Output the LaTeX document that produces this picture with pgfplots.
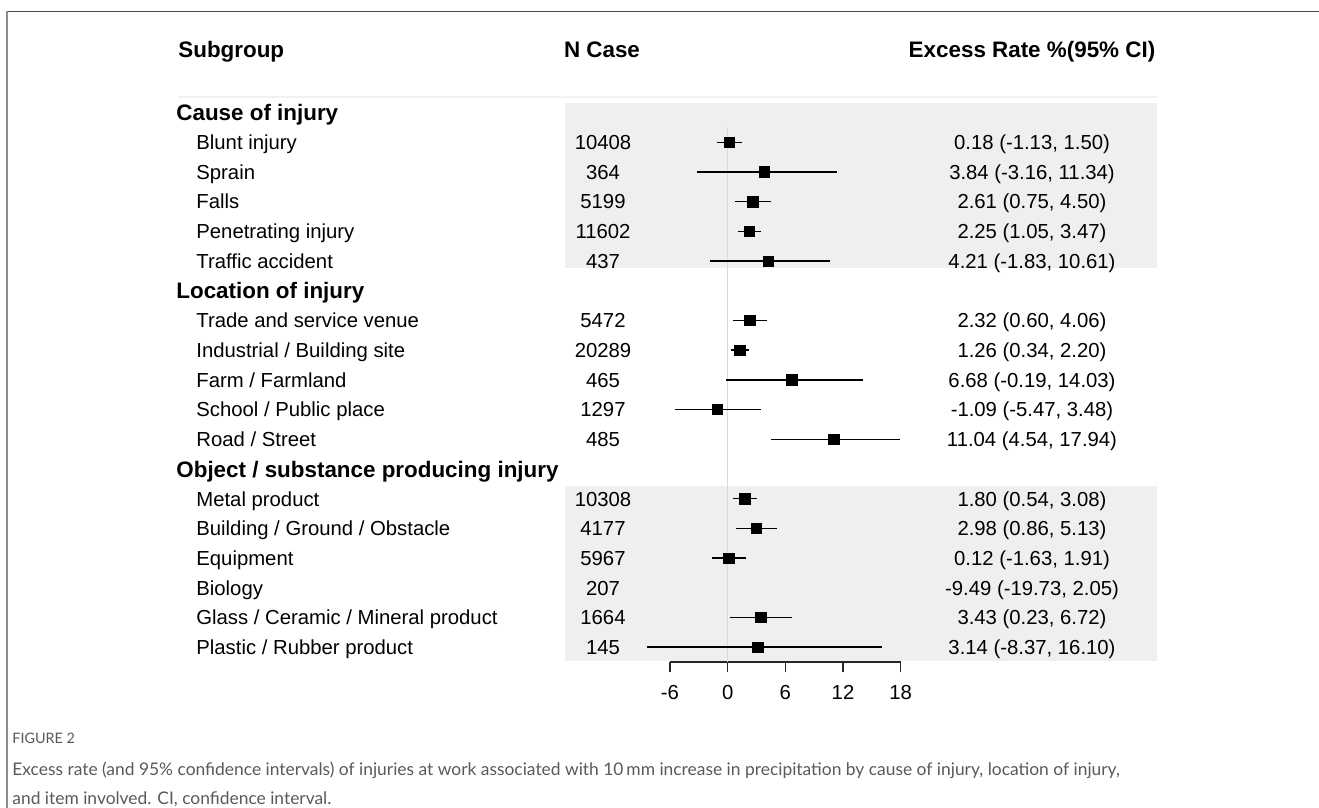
\documentclass[border=0pt]{standalone}
\usepackage{pgfplots}
\pgfplotsset{compat=1.18}
\usepackage{pgfplotstable}
\usepackage{fontspec}
\setmainfont{Liberation Sans}
\newfontfamily\capfont{Lato}
\definecolor{band}{HTML}{EFEFEF}
\definecolor{sepline}{HTML}{F2F2F2}
\definecolor{capgray}{HTML}{595959}
\def\pxu{0.5pt}
\newcommand{\body}{\fontsize{10.15pt}{12pt}\selectfont}
\newcommand{\hdr}{\fontsize{11.2pt}{13pt}\selectfont\bfseries}
% row baseline (pixels) for regular rows
\newcommand{\itemrow}[4]{%
  \node[anchor=base west,inner sep=0] at ({196*\pxu},{-(149.6+(#1-1)*29.7)*\pxu}) {\body #2};
  \node[anchor=base,inner sep=0] at ({603*\pxu},{-(149.6+(#1-1)*29.7)*\pxu}) {\body #3};
  \node[anchor=base,inner sep=0] at ({1032*\pxu},{-(149.6+(#1-1)*29.7)*\pxu}) {\body #4};
}
\newcommand{\grouprow}[2]{%
  \node[anchor=base west,inner sep=0] at ({176*\pxu},{-(150.3+(#1-1)*29.7)*\pxu}) {\hdr #2};
}
\pgfplotstableread{
row est lo hi
1 0.18 -1.13 1.50
2 3.84 -3.16 11.34
3 2.61 0.75 4.50
4 2.25 1.05 3.47
5 4.21 -1.83 10.61
7 2.32 0.60 4.06
8 1.26 0.34 2.20
9 6.68 -0.19 14.03
10 -1.09 -5.47 3.48
11 11.04 4.54 17.94
13 1.80 0.54 3.08
14 2.98 0.86 5.13
15 0.12 -1.63 1.91
17 3.43 0.23 6.72
18 3.14 -8.37 16.10
}\ciData
\begin{document}
\begin{tikzpicture}
\path[use as bounding box] (0,0) rectangle ({1319*\pxu},{-808*\pxu});
% frame
\draw[color=black!70, line width=0.75pt] ({6*\pxu},{-11.5*\pxu}) -- ({1319*\pxu},{-11.5*\pxu});
\draw[color=black!45, line width=1pt] ({6.5*\pxu},{-11*\pxu}) -- ({6.5*\pxu},{-808*\pxu});
% bands
\fill[band] ({565*\pxu},{-103*\pxu}) rectangle ({1157*\pxu},{-268*\pxu});
\fill[band] ({565*\pxu},{-486*\pxu}) rectangle ({1157*\pxu},{-661*\pxu});
% header separator
\draw[sepline, line width=1pt] ({178*\pxu},{-97*\pxu}) -- ({1157*\pxu},{-97*\pxu});
\begin{axis}[
  at={({670*\pxu},{-662*\pxu})}, anchor=south west,
  x=4.806pt, y=14.85pt,
  xmin=-6, xmax=18, ymin=-18.5, ymax=-0.475,
  axis x line*=bottom, hide y axis,
  clip=false,
  xtick={-6,0,6,12,18}, xticklabels={-6,0,6,12,18},
  xtick align=outside, major tick length=5pt,
  tick style={black!85, line width=0.65pt},
  axis line style={black!85, line width=0.65pt},
  xticklabel style={font=\body, yshift=-3pt},
]
\addplot[color=black!15, line width=0.6pt, forget plot] coordinates {(0,-0.475) (0,-18.5)};
\addplot[only marks, mark=square*, mark size=2.6pt, black,
  mark options={line width=0.3pt},
  error bars/.cd, x dir=both, x explicit, error mark=none,
  error bar style={line width=0.7pt, black}]
  table[x=est, y expr=-\thisrow{row},
        x error plus expr=\thisrow{hi}-\thisrow{est},
        x error minus expr=\thisrow{est}-\thisrow{lo}] {\ciData};
\end{axis}
% headers
\node[anchor=base west,inner sep=0] at ({178*\pxu},{-58*\pxu}) {\hdr Subgroup};
\node[anchor=base,inner sep=0] at ({602*\pxu},{-58*\pxu}) {\hdr N Case};
\node[anchor=base,inner sep=0] at ({1032*\pxu},{-58*\pxu}) {\hdr Excess Rate \%(95\% CI)};
\grouprow{0}{Cause of injury}
\itemrow{1}{Blunt injury}{10408}{0.18 (-1.13, 1.50)}
\itemrow{2}{Sprain}{364}{3.84 (-3.16, 11.34)}
\itemrow{3}{Falls}{5199}{2.61 (0.75, 4.50)}
\itemrow{4}{Penetrating injury}{11602}{2.25 (1.05, 3.47)}
\itemrow{5}{Traffic accident}{437}{4.21 (-1.83, 10.61)}
\grouprow{6}{Location of injury}
\itemrow{7}{Trade and service venue}{5472}{2.32 (0.60, 4.06)}
\itemrow{8}{Industrial / Building site}{20289}{1.26 (0.34, 2.20)}
\itemrow{9}{Farm / Farmland}{465}{6.68 (-0.19, 14.03)}
\itemrow{10}{School / Public place}{1297}{-1.09 (-5.47, 3.48)}
\itemrow{11}{Road / Street}{485}{11.04 (4.54, 17.94)}
\grouprow{12}{Object / substance producing injury}
\itemrow{13}{Metal product}{10308}{1.80 (0.54, 3.08)}
\itemrow{14}{Building / Ground / Obstacle}{4177}{2.98 (0.86, 5.13)}
\itemrow{15}{Equipment}{5967}{0.12 (-1.63, 1.91)}
\itemrow{16}{Biology}{207}{-9.49 (-19.73, 2.05)}
\itemrow{17}{Glass / Ceramic / Mineral product}{1664}{3.43 (0.23, 6.72)}
\itemrow{18}{Plastic / Rubber product}{145}{3.14 (-8.37, 16.10)}
% caption
\node[anchor=base west,inner sep=0,text=capgray] at ({12*\pxu},{-743.5*\pxu}) {\capfont\fontsize{7.2pt}{9pt}\selectfont FIGURE 2};
\node[anchor=base west,inner sep=0,text=capgray] at ({12*\pxu},{-775*\pxu}) {\capfont\fontsize{8.7pt}{10pt}\selectfont Excess rate (and 95\% confidence intervals) of injuries at work associated with 10\,mm increase in precipitation by cause of injury, location of injury,};
\node[anchor=base west,inner sep=0,text=capgray] at ({12*\pxu},{-804*\pxu}) {\capfont\fontsize{8.7pt}{10pt}\selectfont and item involved. CI, confidence interval.};
\end{tikzpicture}
\end{document}
